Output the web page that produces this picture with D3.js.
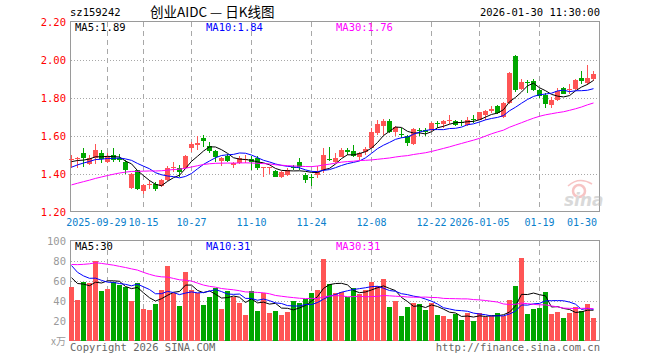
<!DOCTYPE html>
<html><head><meta charset="utf-8">
<script src="https://cdn.jsdelivr.net/npm/d3@7"></script>
<style>html,body{margin:0;padding:0;background:#fff}svg{display:block}</style>
</head><body>
<svg id="chart" width="660" height="360"></svg>
<script>
const dates = [
"2025-09-19","2025-09-22","2025-09-23","2025-09-24","2025-09-25","2025-09-26","2025-09-29","2025-09-30",
"2025-10-09","2025-10-10","2025-10-13","2025-10-14","2025-10-15","2025-10-16","2025-10-17","2025-10-20","2025-10-21","2025-10-22","2025-10-23","2025-10-24","2025-10-27","2025-10-28","2025-10-29","2025-10-30","2025-10-31",
"2025-11-03","2025-11-04","2025-11-05","2025-11-06","2025-11-07","2025-11-10","2025-11-11","2025-11-12","2025-11-13","2025-11-14","2025-11-17","2025-11-18","2025-11-19","2025-11-20","2025-11-21","2025-11-24","2025-11-25","2025-11-26","2025-11-27","2025-11-28",
"2025-12-01","2025-12-02","2025-12-03","2025-12-04","2025-12-05","2025-12-08","2025-12-09","2025-12-10","2025-12-11","2025-12-12","2025-12-15","2025-12-16","2025-12-17","2025-12-18","2025-12-19","2025-12-22","2025-12-23","2025-12-24","2025-12-25","2025-12-26","2025-12-29","2025-12-30","2025-12-31",
"2026-01-05","2026-01-06","2026-01-07","2026-01-08","2026-01-09","2026-01-12","2026-01-13","2026-01-14","2026-01-15","2026-01-16","2026-01-19","2026-01-20","2026-01-21","2026-01-22","2026-01-23","2026-01-26","2026-01-27","2026-01-28","2026-01-29","2026-01-30"];

const opens = [1.471,1.474,1.506,1.450,1.480,1.506,1.462,1.497,1.483,1.462,1.326,1.418,1.308,1.338,1.343,1.335,1.365,1.427,1.427,1.430,1.536,1.550,1.589,1.545,1.519,
1.467,1.492,1.444,1.453,1.471,1.478,1.480,1.427,1.427,1.412,1.382,1.391,1.432,1.458,1.391,1.383,1.391,1.418,1.478,1.462,
1.488,1.524,1.519,1.488,1.515,1.536,1.612,1.651,1.674,1.616,1.609,1.595,1.556,1.630,1.630,1.630,1.667,1.662,1.676,1.678,1.673,1.657,1.685,
1.683,1.710,1.727,1.757,1.700,1.772,2.019,1.846,1.883,1.887,1.838,1.815,1.758,1.786,1.849,1.842,1.845,1.905,1.875,1.895];
const highs = [1.497,1.488,1.533,1.497,1.556,1.524,1.506,1.533,1.503,1.471,1.404,1.420,1.347,1.365,1.356,1.373,1.440,1.458,1.444,1.500,1.568,1.600,1.603,1.568,1.524,
1.488,1.503,1.462,1.490,1.497,1.490,1.490,1.435,1.435,1.418,1.412,1.427,1.444,1.483,1.403,1.400,1.440,1.533,1.538,1.510,
1.533,1.533,1.550,1.515,1.538,1.639,1.683,1.687,1.688,1.651,1.639,1.604,1.640,1.638,1.638,1.670,1.675,1.680,1.706,1.683,1.683,1.697,1.706,
1.726,1.732,1.754,1.763,1.775,1.935,2.023,1.896,1.892,1.899,1.845,1.825,1.804,1.848,1.854,1.871,1.900,1.940,1.971,1.940];
const lows = [1.430,1.430,1.435,1.444,1.450,1.453,1.453,1.462,1.462,1.400,1.320,1.312,1.290,1.320,1.308,1.330,1.360,1.410,1.382,1.427,1.515,1.524,1.542,1.510,1.462,
1.440,1.462,1.427,1.450,1.453,1.418,1.420,1.380,1.397,1.380,1.378,1.386,1.418,1.418,1.350,1.335,1.378,1.403,1.467,1.457,
1.485,1.497,1.485,1.471,1.497,1.533,1.604,1.604,1.612,1.598,1.586,1.545,1.550,1.595,1.595,1.626,1.641,1.641,1.658,1.650,1.650,1.648,1.664,
1.679,1.683,1.718,1.715,1.690,1.768,1.829,1.842,1.825,1.834,1.798,1.745,1.745,1.783,1.818,1.818,1.842,1.870,1.865,1.887];
const closes = [1.476,1.480,1.480,1.480,1.524,1.474,1.494,1.471,1.471,1.418,1.400,1.317,1.338,1.343,1.317,1.365,1.430,1.435,1.409,1.492,1.554,1.563,1.573,1.520,1.488,
1.483,1.467,1.457,1.483,1.478,1.460,1.427,1.432,1.432,1.382,1.409,1.418,1.427,1.435,1.368,1.382,1.414,1.497,1.474,1.483,
1.524,1.515,1.494,1.510,1.531,1.618,1.662,1.678,1.621,1.644,1.607,1.559,1.634,1.625,1.616,1.665,1.663,1.674,1.679,1.657,1.670,1.683,1.682,
1.722,1.727,1.740,1.718,1.772,1.931,1.842,1.881,1.881,1.842,1.810,1.765,1.785,1.835,1.820,1.845,1.890,1.885,1.905,1.925];
const volumes = [54,41,59,58,79.5,50,52,59,55.5,53.5,39.3,58,32,31,37,51,74.7,47.4,35,69,51,48,36,44,52.4,
32,50,44,38,26,50,30,48,28,30,26,29,40,38,42,48,51,81.5,57,47.4,
49,43.3,53,46.4,51,59,54.5,62,34,40,24.8,34,38,37,31,38,26,24.8,21.8,27,20.7,28,19.7,
28,23.8,24.8,27.8,24.5,41,55,82.5,26.8,31.9,32.9,49,26.8,28.8,22.8,27.8,34,30,37,22.8];

// trading days before the first visible candle (only feed the moving averages)
const priorCloses = [1.22,1.23,1.24,1.25,1.25,1.26,1.27,1.28,1.28,1.29,1.30,1.31,1.31,1.32,1.33,1.33,1.34,1.35,1.35,1.36,
1.36,1.38,1.40,1.42,1.46,1.45,1.47,1.45,1.466];
const priorVolumes = [45,50,42,48,70,78,85,92,88,80,95,100,90,85,78,82,88,76,80,78,109,95,82,78,72,70,62,66,62];

const tickDates = ["2025-09-29","2025-10-15","2025-10-27","2025-11-10","2025-11-24","2025-12-08","2025-12-22","2026-01-05","2026-01-19"];
const tickLabels = ["2025-09-29","10-15","10-27","11-10","11-24","12-08","12-22","2026-01-05","01-19"];
const lastLabel = "01-30";
const priceTicks = [1.2,1.4,1.6,1.8,2.0,2.2];
const volTicks = [20,40,60,80,100];
const volUnit = "x万";
const priceLegend = ["MA5:1.89","MA10:1.84","MA30:1.76"];
const volLegend = ["MA5:30","MA10:31","MA30:31"];
const maColors = ["#000000","#0000ff","#ff00ff"];
const maPeriods = [5,10,30];
const header = {code:"sz159242", title:"创业AIDC — 日K线图", time:"2026-01-30 11:30:00"};

const RED = "#ff5555", GREEN = "#00a600", FRAME = "#9a9a9a", GRID = "#a8a8a8";
const MONO = "'DejaVu Sans Mono', 'Liberation Mono', monospace";

const svg = d3.select("#chart");
const L = 70.5, R = 599.5;
const pTop = 21.5, pBot = 211.5, vTop = 240.5, vBot = 340.5;

const x = d3.scaleBand().domain(dates).range([68.5, 596.5]).paddingInner(1/6).paddingOuter(1/12);
const cx = d => x(d) + x.bandwidth()/2;
const y = d3.scaleLinear().domain([1.2, 2.2]).range([pBot, pTop]);
const yv = d3.scaleLinear().domain([0, 100]).range([vBot, vTop]);

function movingAvg(prior, vals, n){
  const all = prior.concat(vals);
  return vals.map((v,i)=>d3.mean(all.slice(prior.length+i-n+1, prior.length+i+1)));
}

// header
svg.append("text").attr("x",70).attr("y",16).attr("font-family",MONO).attr("font-size",10.5).attr("fill","#000").text(header.code);
svg.append("text").attr("x",150).attr("y",17).attr("font-family","'Noto Sans CJK SC', sans-serif").attr("font-size",13.5).attr("fill","#000").text(header.title);
svg.append("text").attr("x",600).attr("y",16).attr("text-anchor","end").attr("font-family",MONO).attr("font-size",10.5).attr("fill","#000").text(header.time);

// grids
function drawGrid(top, bot, yScale, ticks){
  const g = svg.append("g").attr("shape-rendering","crispEdges");
  g.selectAll(".h").data(ticks).enter().append("line")
    .attr("x1",L).attr("x2",R).attr("y1",d=>Math.round(yScale(d))+0.5).attr("y2",d=>Math.round(yScale(d))+0.5)
    .attr("stroke",GRID).attr("stroke-dasharray","1,2");
  g.selectAll(".v").data(tickDates).enter().append("line")
    .attr("x1",d=>Math.floor(cx(d))+0.5).attr("x2",d=>Math.floor(cx(d))+0.5).attr("y1",top).attr("y2",bot)
    .attr("stroke",GRID).attr("stroke-dasharray","5,4");
}
drawGrid(pTop, pBot, y, [1.4,1.6,1.8,2.0]);
drawGrid(vTop, vBot, yv, [20,40,60,80]);

// frames
svg.append("rect").attr("x",L).attr("y",pTop).attr("width",R-L).attr("height",pBot-pTop).attr("fill","none").attr("stroke",FRAME);
svg.append("rect").attr("x",L).attr("y",vTop).attr("width",R-L).attr("height",vBot-vTop).attr("fill","none").attr("stroke",FRAME);

// watermark
const wm = svg.append("g").attr("opacity",0.5);
wm.append("circle").attr("cx",579).attr("cy",191).attr("r",6).attr("fill","none").attr("stroke","#f08a8a").attr("stroke-width",2.5);
wm.append("path").attr("d","M568,186 Q579,176 592,184").attr("fill","none").attr("stroke","#f08a8a").attr("stroke-width",1.5);
wm.append("text").attr("x",564).attr("y",206).attr("font-family","'DejaVu Sans', sans-serif").attr("font-style","italic").attr("font-weight","bold")
  .attr("font-size",17).attr("fill","#b5b5b5").text("sina");

// axis labels
svg.append("g").selectAll("text").data(priceTicks).enter().append("text")
  .attr("x",66).attr("y",d=>y(d)+4).attr("text-anchor","end").attr("font-family",MONO).attr("font-size",10.5).attr("fill","#ff0000")
  .text(d=>d3.format(".2f")(d));
svg.append("g").selectAll("text").data(volTicks).enter().append("text")
  .attr("x",66).attr("y",d=>yv(d)+4).attr("text-anchor","end").attr("font-family",MONO).attr("font-size",10.5).attr("fill","#9a9a9a")
  .text(d=>d);
svg.append("text").attr("x",66).attr("y",345).attr("text-anchor","end").attr("font-family","'Noto Sans CJK SC', sans-serif").attr("font-size",10).attr("fill","#9a9a9a").text(volUnit);

// date labels: the first one is right-aligned so it sits just before its crowded neighbour
const xl = svg.append("g").attr("font-family",MONO).attr("font-size",10).attr("fill","#0a80cc");
xl.selectAll("text").data(tickDates).enter().append("text")
  .attr("x",(d,i)=> i===0 ? cx(tickDates[1]) - 17 : cx(d))
  .attr("y",226).attr("text-anchor",(d,i)=> i===0 ? "end" : "middle").text((d,i)=>tickLabels[i]);
xl.append("text").attr("x",597).attr("y",226).attr("text-anchor","end").text(lastLabel);

// candles
const idx = d3.range(dates.length);
const up = i => closes[i] >= opens[i];
const cg = svg.append("g").attr("shape-rendering","crispEdges");
cg.selectAll("line").data(idx).enter().append("line")
  .attr("x1",i=>Math.floor(cx(dates[i]))+0.5).attr("x2",i=>Math.floor(cx(dates[i]))+0.5)
  .attr("y1",i=>y(highs[i])).attr("y2",i=>y(lows[i]))
  .attr("stroke",i=>up(i)?RED:GREEN);
cg.selectAll("rect").data(idx).enter().append("rect")
  .attr("x",i=>x(dates[i])).attr("width",x.bandwidth())
  .attr("y",i=>y(Math.max(opens[i],closes[i])))
  .attr("height",i=>Math.max(1, Math.abs(y(opens[i])-y(closes[i]))))
  .attr("fill",i=>up(i)?RED:GREEN);

// volume bars
svg.append("g").attr("shape-rendering","crispEdges").selectAll("rect").data(idx).enter().append("rect")
  .attr("x",i=>x(dates[i])).attr("width",x.bandwidth())
  .attr("y",i=>yv(volumes[i])).attr("height",i=>yv(0)-yv(volumes[i]))
  .attr("fill",i=>up(i)?RED:GREEN);

// moving averages
maPeriods.forEach((n,k)=>{
  const pm = movingAvg(priorCloses, closes, n);
  const vm = movingAvg(priorVolumes, volumes, n);
  const lp = d3.line().x((d,i)=>cx(dates[i])).y(d=>y(d));
  const lv = d3.line().x((d,i)=>cx(dates[i])).y(d=>yv(d));
  svg.append("path").attr("d",lp(pm)).attr("fill","none").attr("stroke",maColors[k]).attr("stroke-width",1);
  svg.append("path").attr("d",lv(vm)).attr("fill","none").attr("stroke",maColors[k]).attr("stroke-width",1);
});

// legends
const legX = [75,206,336];
priceLegend.forEach((t,k)=>svg.append("text").attr("x",legX[k]).attr("y",31).attr("font-family",MONO).attr("font-size",10.5).attr("fill",maColors[k]).text(t));
volLegend.forEach((t,k)=>svg.append("text").attr("x",legX[k]).attr("y",250).attr("font-family",MONO).attr("font-size",10.5).attr("fill",maColors[k]).text(t));

// footer
svg.append("text").attr("x",70).attr("y",351).attr("font-family",MONO).attr("font-size",10.5).attr("fill","#666").text("Copyright 2026 SINA.COM");
svg.append("text").attr("x",600).attr("y",351).attr("text-anchor","end").attr("font-family",MONO).attr("font-size",10.5).attr("fill","#666").text("http://finance.sina.com.cn");
</script>
</body></html>
